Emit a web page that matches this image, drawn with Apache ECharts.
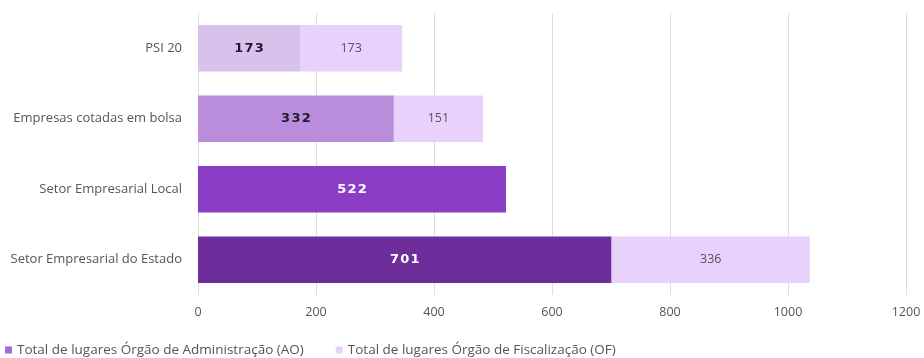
<!DOCTYPE html>
<html>
<head>
<meta charset="utf-8">
<script src="https://cdn.jsdelivr.net/npm/echarts@6/dist/echarts.min.js"></script>
<style>
html,body{margin:0;padding:0;background:#fff;}
#chart{width:924px;height:358px;}
</style>
</head>
<body>
<div id="chart"></div>
<script>
// Categories listed bottom-to-top (ECharts category y-axis starts at the bottom)
const categories = ['Setor Empresarial do Estado', 'Setor Empresarial Local', 'Empresas cotadas em bolsa', 'PSI 20'];
const aoValues = [701, 522, 332, 173];
const ofValues = [336, null, 151, 173];
const xTicks = [0, 200, 400, 600, 800, 1000, 1200];

const aoColors = ['#6d2e9c', '#8a3cc4', '#b98cdc', '#d8c1ea'];
const aoLabelColors = ['#ffffff', '#ffffff', '#1e1a2a', '#1e1a2a'];
const ofColor = '#e8d2fb';

const chart = echarts.init(document.getElementById('chart'));
chart.setOption({
  animation: false,
  textStyle: { fontFamily: 'Open Sans' },
  grid: { left: 198, right: 18, top: 13, bottom: 63, containLabel: false },
  legend: {
    left: 0, bottom: -4,
    itemWidth: 7, itemHeight: 7, itemGap: 32,
    icon: 'rect',
    textStyle: { color: '#555', fontSize: 13.5, fontFamily: 'Open Sans' },
    data: [
      { name: 'Total de lugares Órgão de Administração (AO)', itemStyle: { color: '#a66bd2' } },
      { name: 'Total de lugares Órgão de Fiscalização (OF)', itemStyle: { color: ofColor } }
    ]
  },
  xAxis: {
    type: 'value', min: xTicks[0], max: xTicks[xTicks.length - 1], interval: 200,
    axisLine: { show: false }, axisTick: { show: false },
    splitLine: { lineStyle: { color: '#dcdcdc', width: 1 } },
    axisLabel: { color: '#555', fontSize: 12.5, margin: 11, formatter: v => String(v) }
  },
  yAxis: {
    type: 'category', data: categories,
    axisLine: { show: false }, axisTick: { show: false },
    axisLabel: { color: '#555', fontSize: 13, margin: 16 }
  },
  series: [
    {
      name: 'Total de lugares Órgão de Administração (AO)',
      type: 'bar', stack: 'total', barWidth: '66%',
      data: aoValues.map((v, i) => ({
        value: v,
        itemStyle: { color: aoColors[i] },
        label: { color: aoLabelColors[i] }
      })),
      label: {
        show: true, position: 'inside', fontWeight: 'bold', fontSize: 13,
        fontFamily: 'DejaVu Sans', formatter: p => String(p.value).split('').join('\u200A')
      }
    },
    {
      name: 'Total de lugares Órgão de Fiscalização (OF)',
      type: 'bar', stack: 'total', barWidth: '66%',
      itemStyle: { color: ofColor },
      data: ofValues,
      label: { show: true, position: 'inside', color: '#5a5060', fontSize: 12.5 }
    }
  ]
});
</script>
</body>
</html>
